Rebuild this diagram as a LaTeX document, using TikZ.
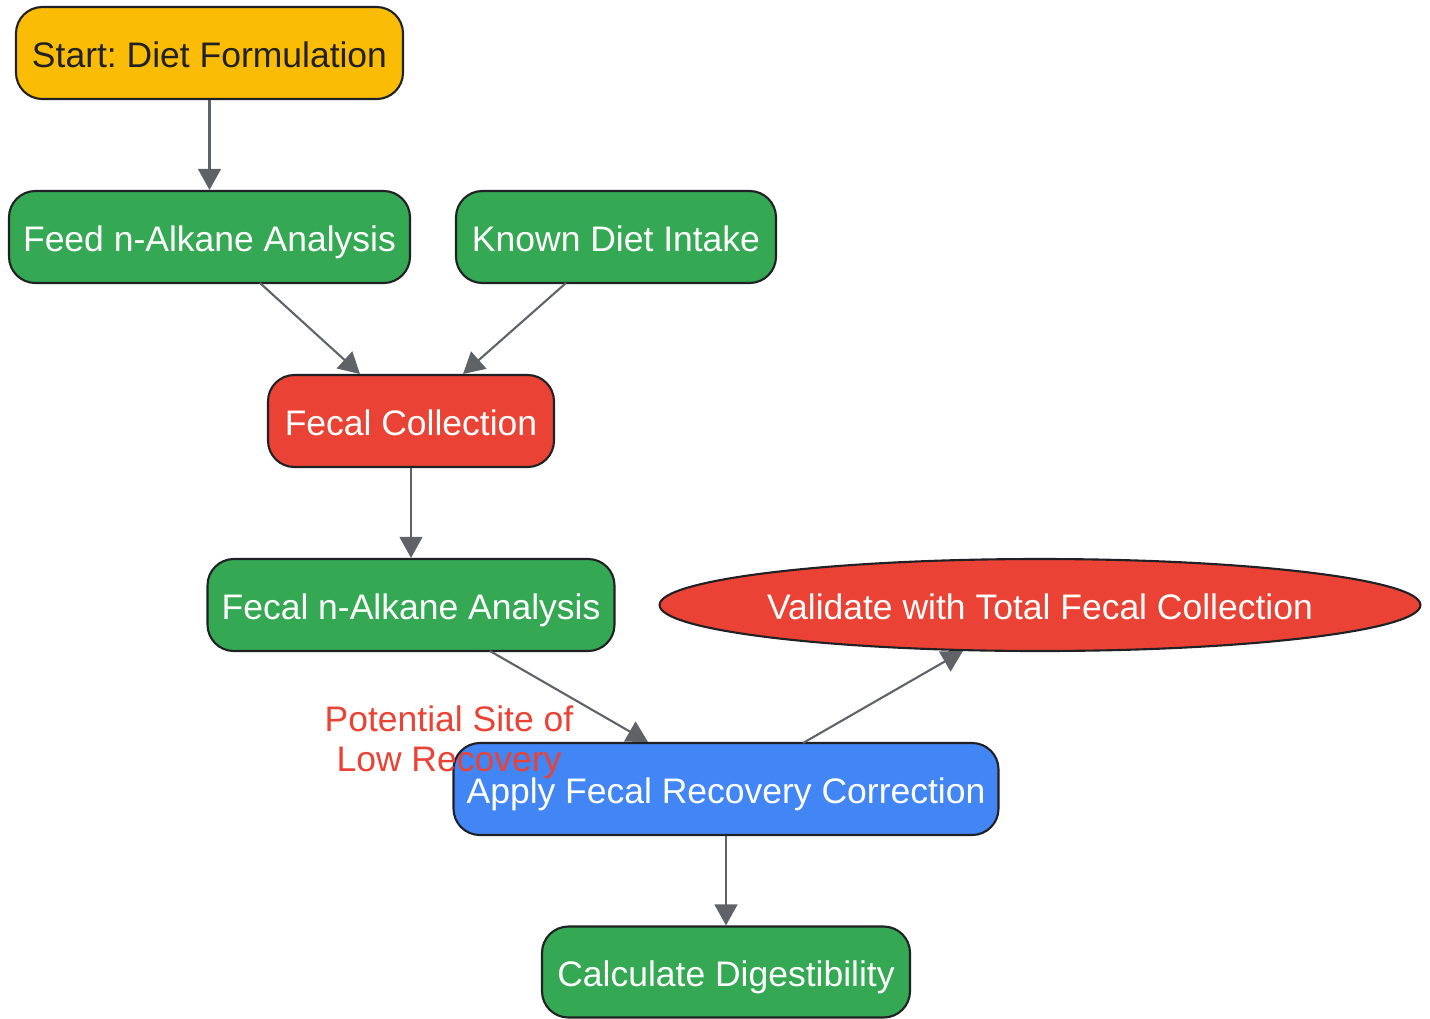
\documentclass[tikz,border=0pt]{standalone}
\usepackage{fontspec}
\setmainfont{Liberation Sans}
\usetikzlibrary{shapes.geometric,arrows.meta}
\definecolor{gyellow}{HTML}{FBBC05}
\definecolor{ggreen}{HTML}{34A853}
\definecolor{gred}{HTML}{EA4335}
\definecolor{gblue}{HTML}{4285F4}
\definecolor{gedge}{HTML}{5F6368}
\definecolor{gtext}{HTML}{202124}
\definecolor{gborder}{HTML}{202124}
\tikzset{
  basefont/.style={font=\fontsize{20.2}{22.7}\selectfont\frenchspacing},
  box/.style={draw=gborder, line width=1.2pt, rounded corners=15pt, inner sep=0pt,
    minimum height=92*0.02cm, basefont, text=white, text height=21pt, text depth=4.4pt},
  oval/.style={draw=gborder, line width=1.2pt, ellipse, inner ysep=0pt, inner xsep=-2.2pt,
    minimum height=92*0.02cm, basefont, text=white, text height=21pt, text depth=4.4pt},
  conn/.style={draw=gedge, line width=1.2pt, -{Triangle[length=12pt,width=13pt]}},
}
\begin{document}
\begin{tikzpicture}[x=0.02cm,y=-0.02cm]
\useasboundingbox (0,0) rectangle (1430,1018);
\node[box, fill=gyellow, text=gtext, minimum width=387*0.02cm] (start) at (209.5,53) {Start: Diet Formulation};
\node[box, fill=ggreen, minimum width=401*0.02cm] (feed) at (209.5,237) {Feed n-Alkane Analysis};
\node[box, fill=ggreen, minimum width=320*0.02cm] (known) at (616,237) {Known Diet Intake};
\node[box, fill=gred, minimum width=286*0.02cm] (fcoll) at (411,421) {Fecal Collection};
\node[box, fill=ggreen, minimum width=407*0.02cm] (falk) at (411,605) {Fecal n-Alkane Analysis};
\node[oval, fill=gred] (valid) at (1040,605) {Validate with Total Fecal Collection};
\node[box, fill=gblue, minimum width=545*0.02cm] (apply) at (726,789) {Apply Fecal Recovery Correction};
\node[box, fill=ggreen, minimum width=368*0.02cm, minimum height=91*0.02cm] (calc) at (726,972) {Calculate Digestibility};
\coordinate (fa1) at (260,283);
\coordinate (fa2) at (360,374);
\coordinate (ka1) at (566,283);
\coordinate (ka2) at (463,374);
\coordinate (la1) at (490,651);
\coordinate (la2) at (648,742);
\coordinate (va1) at (803,743);
\coordinate (va2) at (963,651);
\draw[conn] (start.south) -- (feed.north);
\draw[conn] (fa1) -- (fa2);
\draw[conn] (ka1) -- (ka2);
\draw[conn] (fcoll.south) -- (falk.north);
\draw[conn] (la1) -- (la2);
\draw[conn] (va1) -- (va2);
\draw[conn] (apply.south) -- (calc.north);
\node[text=gred, align=center, basefont, inner sep=0pt] (lbl) at (449,742) {Potential Site of\\Low Recovery};
\end{tikzpicture}
\end{document}
